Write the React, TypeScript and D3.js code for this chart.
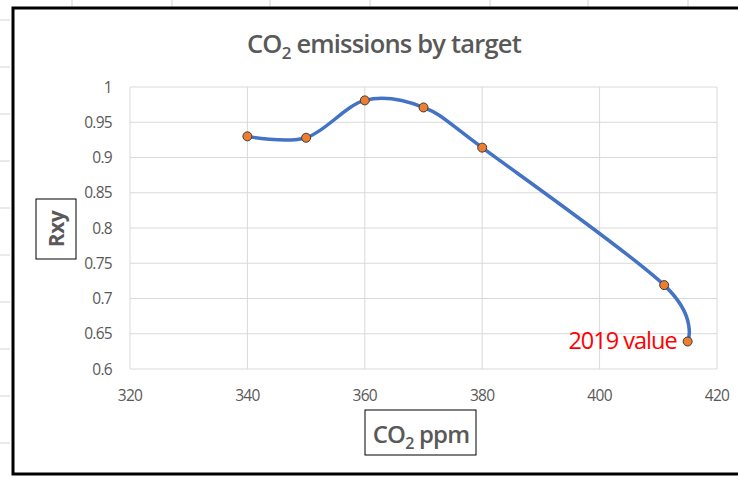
import React from "react";
import * as d3 from "d3";

const xValues = [340, 350, 360, 370, 380, 411, 415];
const yValues = [0.93, 0.928, 0.981, 0.971, 0.914, 0.719, 0.639];
const xTicks = [320, 340, 360, 380, 400, 420];
const yTicks = [0.6, 0.65, 0.7, 0.75, 0.8, 0.85, 0.9, 0.95, 1];
const annotationText = "2019 value";
const sheetColumns = [72, 172, 270, 370, 490, 588, 688];

export default function App() {
  const W = 738, H = 478;
  const left = 130, right = 717, top = 87, bottom = 369;
  const x = d3.scaleLinear().domain([320, 420]).range([left, right]);
  const y = d3.scaleLinear().domain([0.6, 1]).range([bottom, top]);
  const pts = xValues.map((v, i) => [v, yValues[i]] as [number, number]);
  const line = d3.line<[number, number]>()
    .x(d => x(d[0]))
    .y(d => y(d[1]))
    .curve(d3.curveCatmullRom.alpha(0));
  const font = "'Open Sans', sans-serif";
  const gray = "#595959";
  const last = pts[pts.length - 1];
  return (
    <svg width={W} height={H} style={{ position: "absolute", left: 0, top: 0 }} fontFamily={font}>
      <rect x={0} y={0} width={W} height={H} fill="#fff" />
      {sheetColumns.map((c, i) => (
        <line key={i} x1={c} x2={c} y1={0} y2={7} stroke="#d4d4d4" />
      ))}
      {d3.range(20, 478, 47).map((r, i) => (
        <line key={"r" + i} x1={0} x2={10} y1={r} y2={r} stroke="#d4d4d4" />
      ))}
      <rect x={13} y={8} width={W} height={466} fill="#fff" stroke="#000" strokeWidth={3} />
      <text x={384} y={53} textAnchor="middle" fontSize={25.5} fontWeight={600} fill={gray} letterSpacing={-0.8}>
        CO<tspan fontSize={17} dy={6}>2</tspan><tspan dy={-6}> emissions by target</tspan>
      </text>
      {yTicks.map(t => (
        <line key={"gy" + t} x1={left} x2={right} y1={y(t)} y2={y(t)} stroke="#d9d9d9" strokeWidth={1} />
      ))}
      {xTicks.map(t => (
        <line key={"gx" + t} x1={x(t)} x2={x(t)} y1={top} y2={bottom} stroke="#d9d9d9" strokeWidth={1} />
      ))}
      {yTicks.map(t => (
        <text key={"ty" + t} x={112} y={y(t) + 5.5} textAnchor="end" fontSize={15.5} fill={gray} letterSpacing={-0.7}>
          {d3.format("")(+t.toFixed(2))}
        </text>
      ))}
      {xTicks.map(t => (
        <text key={"tx" + t} x={x(t)} y={401} textAnchor="middle" fontSize={15.5} fill={gray} letterSpacing={-0.7}>
          {t}
        </text>
      ))}
      <path d={line(pts) || ""} fill="none" stroke="#4472C4" strokeWidth={3.5} strokeLinecap="round" />
      {pts.map((p, i) => (
        <circle key={i} cx={x(p[0])} cy={y(p[1])} r={4.5} fill="#ED7D31" stroke="#3b3b3b" strokeWidth={1} />
      ))}
      <text x={x(last[0]) - 11} y={y(last[1]) + 7.5} textAnchor="end" fontSize={23.5} fill="#ff0000" letterSpacing={-1}>
        {annotationText}
      </text>
      <rect x={36} y={199} width={40} height={60} fill="#fff" stroke="#000" strokeWidth={1} />
      <text transform="translate(64,229) rotate(-90)" textAnchor="middle" fontSize={21} fontWeight={700} fill={gray} letterSpacing={-0.5}>
        Rxy
      </text>
      <rect x={365} y={410} width={111} height={45} fill="#fff" stroke="#000" strokeWidth={1} />
      <text x={421} y={443} textAnchor="middle" fontSize={24} fontWeight={600} fill={gray} letterSpacing={-0.8}>
        CO<tspan fontSize={16} dy={6}>2</tspan><tspan dy={-6}> ppm</tspan>
      </text>
    </svg>
  );
}
